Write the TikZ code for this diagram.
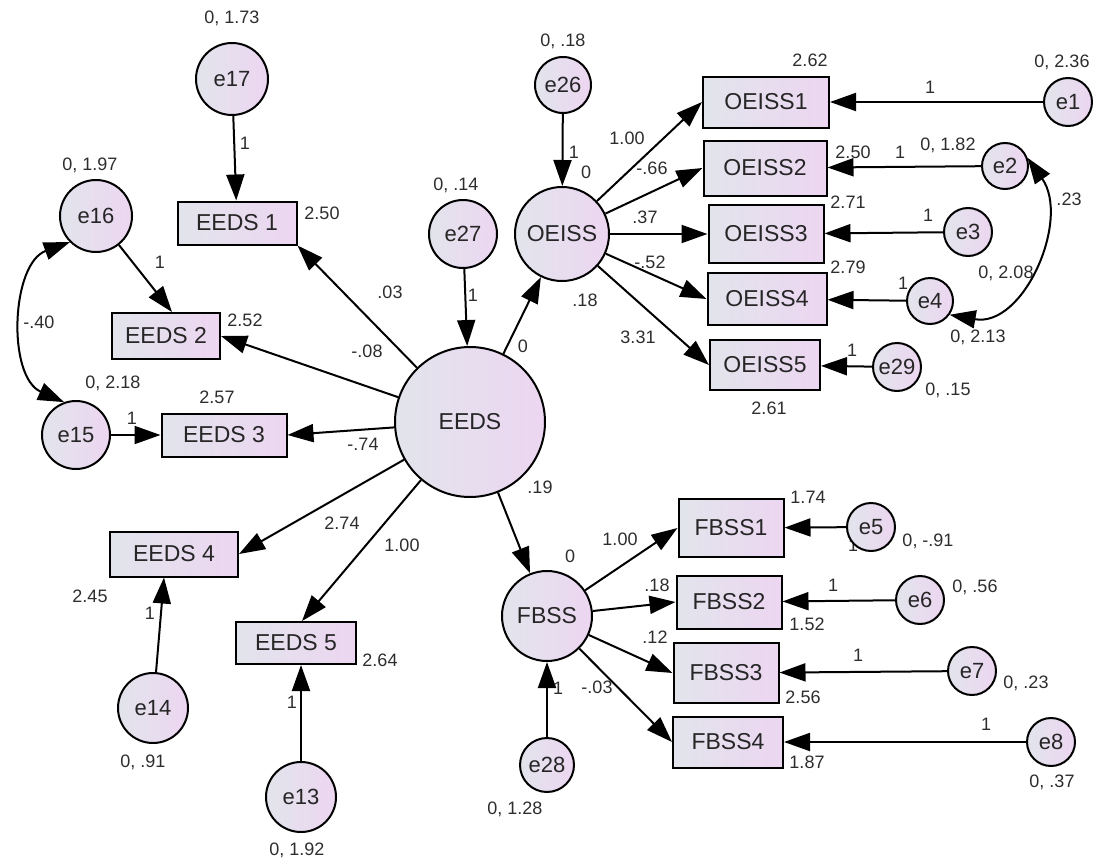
\documentclass[tikz,border=0pt]{standalone}
\usepackage{fontspec}
\newfontfamily\arialf{Liberation Sans}
\usetikzlibrary{arrows.meta,calc}
\definecolor{cL}{RGB}{226,228,236}
\definecolor{cR}{RGB}{237,214,241}
\definecolor{labgray}{RGB}{45,45,45}
\newcommand\nodefont{\arialf\fontsize{23}{25}\selectfont}
\newcommand\enodefont{\arialf\fontsize{22}{24}\selectfont}
\newcommand\labfont{\arialf\fontsize{18}{20}\selectfont}
\tikzset{
 lat/.style={circle, draw, line width=2pt, inner sep=0pt, left color=cL, right color=cR, font=\nodefont, text=black!85},
 err/.style={lat, font=\enodefont},
 obs/.style={rectangle, draw, line width=2pt, inner sep=0pt, left color=cL, right color=cR, font=\nodefont, text=black!85},
 lab/.style={font=\labfont, text=labgray, inner sep=0pt},
 reg/.style={line width=2pt, -{Triangle[length=26pt,width=18pt]}},
 cov/.style={line width=2pt, {Triangle[length=26pt,width=18pt]}-{Triangle[length=26pt,width=18pt]}},
}
\begin{document}
\begin{tikzpicture}[x=1pt,y=1pt]
\useasboundingbox (0,0) rectangle (1093,-862);
% label partly hidden behind e5
\node[lab] (l60) at (853,-545) {1};
% latent circles
\node[lat, minimum size=150pt] (EEDS) at (470,-422) {EEDS};
\node[lat, minimum size=94pt] (OEISS) at (562,-234) {OEISS};
\node[lat, minimum size=90pt] (FBSS) at (547,-616) {FBSS};
% error circles
\node[err, minimum size=72pt] (e17) at (232,-79) {e17};
\node[err, minimum size=72pt] (e16) at (96,-216) {e16};
\node[err, minimum size=68pt] (e15) at (76,-435) {e15};
\node[err, minimum size=68pt] (e27) at (463,-234) {e27};
\node[err, minimum size=56pt] (e26) at (563,-85) {e26};
\node[err, minimum size=70pt] (e14) at (153,-708) {e14};
\node[err, minimum size=70pt] (e13) at (301,-797) {e13};
\node[err, minimum size=54pt] (e28) at (547,-765) {e28};
\node[err, minimum size=48pt] (e1) at (1068,-102) {e1};
\node[err, minimum size=46pt] (e2) at (1005,-166) {e2};
\node[err, minimum size=48pt] (e3) at (968,-232) {e3};
\node[err, minimum size=46pt] (e4) at (930,-301) {e4};
\node[err, minimum size=48pt] (e29) at (897,-367) {e29};
\node[err, minimum size=48pt] (e5) at (871,-527) {e5};
\node[err, minimum size=48pt] (e6) at (920,-600) {e6};
\node[err, minimum size=48pt] (e7) at (972,-671) {e7};
\node[err, minimum size=48pt] (e8) at (1051,-742) {e8};
% observed boxes
\node[obs, minimum width=119pt, minimum height=43pt] (EEDS1) at (237,-223) {EEDS 1};
\node[obs, minimum width=108pt, minimum height=46pt] (EEDS2) at (166,-336) {EEDS 2};
\node[obs, minimum width=125pt, minimum height=43pt] (EEDS3) at (224,-435) {EEDS 3};
\node[obs, minimum width=128pt, minimum height=45pt] (EEDS4) at (174,-554) {EEDS 4};
\node[obs, minimum width=120pt, minimum height=42pt] (EEDS5) at (296,-643) {EEDS 5};
\node[obs, minimum width=126pt, minimum height=51pt] (OEISS1) at (766,-102) {OEISS1};
\node[obs, minimum width=123pt, minimum height=55pt] (OEISS2) at (765,-168) {OEISS2};
\node[obs, minimum width=115pt, minimum height=58pt] (OEISS3) at (766,-234) {OEISS3};
\node[obs, minimum width=119pt, minimum height=52pt] (OEISS4) at (767,-299) {OEISS4};
\node[obs, minimum width=110pt, minimum height=50pt] (OEISS5) at (765,-365) {OEISS5};
\node[obs, minimum width=105pt, minimum height=58pt] (FBSS1) at (731,-528) {FBSS1};
\node[obs, minimum width=105pt, minimum height=53pt] (FBSS2) at (729,-602) {FBSS2};
\node[obs, minimum width=105pt, minimum height=60pt] (FBSS3) at (726,-673) {FBSS3};
\node[obs, minimum width=110pt, minimum height=51pt] (FBSS4) at (728,-742) {FBSS4};
% structural paths
\draw[reg] (EEDS) -- (EEDS1.south east);
\draw[reg] (EEDS) -- (EEDS2.east);
\draw[reg] (EEDS) -- (EEDS3.east);
\draw[reg] (EEDS) -- (EEDS4.east);
\draw[reg] (EEDS) -- ($(EEDS5.north)+(6,0)$);
\draw[reg] (EEDS) -- (OEISS);
\draw[reg] (EEDS) -- (FBSS);
\draw[reg] (OEISS) -- (OEISS1.west);
\draw[reg] (OEISS) -- (OEISS2.west);
\draw[reg] (OEISS) -- (OEISS3.west);
\draw[reg] (OEISS) -- (OEISS4.west);
\draw[reg] (OEISS) -- (OEISS5.west);
\draw[reg] (FBSS) -- (FBSS1.west);
\draw[reg] (FBSS) -- (FBSS2.west);
\draw[reg] (FBSS) -- (FBSS3.west);
\draw[reg] (FBSS) -- (FBSS4.west);
% error paths
\draw[reg] (e17) -- (EEDS1);
\draw[reg] (e16) -- ($(EEDS2.north)+(6,0)$);
\draw[reg] (e15) -- (EEDS3);
\draw[reg] (e14) -- ($(EEDS4.south)+(-10,0)$);
\draw[reg] (e13) -- ($(EEDS5.south)+(5,0)$);
\draw[reg] (e27) -- (EEDS);
\draw[reg] (e26) -- (OEISS);
\draw[reg] (e28) -- (FBSS);
\draw[reg] (e1) -- (OEISS1);
\draw[reg] (e2) -- (OEISS2);
\draw[reg] (e3) -- (OEISS3);
\draw[reg] (e4) -- (OEISS4);
\draw[reg] (e29) -- (OEISS5);
\draw[reg] (e5) -- (FBSS1);
\draw[reg] (e6) -- (FBSS2);
\draw[reg] (e7) -- (FBSS3);
\draw[reg] (e8) -- (FBSS4);
% covariances
\draw[cov] (e16.225) to[bend right=68] (e15.110);
\draw[cov] (e2.20) to[out=-55,in=-10,looseness=1.1] (e4.-35);
% labels
\node[lab] (l1) at (232,-18) {0, 1.73};
\node[lab] (l2) at (322,-213) {2.50};
\node[lab] (l3) at (245,-143) {1};
\node[lab] (l4) at (90,-165) {0, 1.97};
\node[lab] (l5) at (160,-262) {1};
\node[lab] (l6) at (390,-292) {.03};
\node[lab] (l7) at (456,-185) {0, .14};
\node[lab] (l8) at (473,-295) {1};
\node[lab] (l9) at (563,-41) {0, .18};
\node[lab] (l10) at (574,-152) {1};
\node[lab] (l11) at (586,-172) {0};
\node[lab] (l12) at (627,-138) {1.00};
\node[lab] (l13) at (652,-168) {-.66};
\node[lab] (l14) at (645,-217) {.37};
\node[lab] (l15) at (650,-262) {-.52};
\node[lab] (l16) at (585,-300) {.18};
\node[lab] (l17) at (523,-346) {0};
\node[lab] (l18) at (638,-337) {3.31};
\node[lab] (l19) at (810,-60) {2.62};
\node[lab] (l20) at (1062,-62) {0, 2.36};
\node[lab] (l21) at (930,-87) {1};
\node[lab] (l22) at (853,-152) {2.50};
\node[lab] (l23) at (900,-152) {1};
\node[lab] (l24) at (948,-145) {0, 1.82};
\node[lab] (l25) at (848,-202) {2.71};
\node[lab] (l26) at (928,-215) {1};
\node[lab] (l27) at (1069,-199) {.23};
\node[lab] (l28) at (848,-267) {2.79};
\node[lab] (l29) at (1006,-273) {0, 2.08};
\node[lab] (l30) at (903,-283) {1};
\node[lab] (l31) at (978,-337) {0, 2.13};
\node[lab] (l32) at (852,-350) {1};
\node[lab] (l33) at (948,-390) {0, .15};
\node[lab] (l34) at (769,-408) {2.61};
\node[lab] (l35) at (39,-322) {-.40};
\node[lab] (l36) at (245,-320) {2.52};
\node[lab] (l37) at (367,-351) {-.08};
\node[lab] (l38) at (113,-383) {0, 2.18};
\node[lab] (l39) at (217,-397) {2.57};
\node[lab] (l40) at (132,-418) {1};
\node[lab] (l41) at (363,-444) {-.74};
\node[lab] (l42) at (342,-523) {2.74};
\node[lab] (l43) at (402,-545) {1.00};
\node[lab] (l44) at (90,-596) {2.45};
\node[lab] (l45) at (150,-613) {1};
\node[lab] (l46) at (143,-762) {0, .91};
\node[lab] (l47) at (380,-660) {2.64};
\node[lab] (l48) at (292,-702) {1};
\node[lab] (l49) at (297,-850) {0, 1.92};
\node[lab] (l50) at (540,-487) {.19};
\node[lab] (l51) at (570,-556) {0};
\node[lab] (l52) at (620,-539) {1.00};
\node[lab] (l53) at (657,-585) {.18};
\node[lab] (l54) at (655,-637) {.12};
\node[lab] (l55) at (597,-687) {-.03};
\node[lab] (l56) at (558,-688) {1};
\node[lab] (l57) at (515,-809) {0, 1.28};
\node[lab] (l58) at (808,-497) {1.74};
\node[lab] (l59) at (928,-541) {0, -.91};
\node[lab] (l61) at (833,-585) {1};
\node[lab] (l62) at (975,-587) {0, .56};
\node[lab] (l63) at (807,-624) {1.52};
\node[lab] (l64) at (858,-655) {1};
\node[lab] (l65) at (1026,-683) {0, .23};
\node[lab] (l66) at (803,-697) {2.56};
\node[lab] (l67) at (986,-724) {1};
\node[lab] (l68) at (807,-762) {1.87};
\node[lab] (l69) at (1052,-782) {0, .37};
\end{tikzpicture}
\end{document}
